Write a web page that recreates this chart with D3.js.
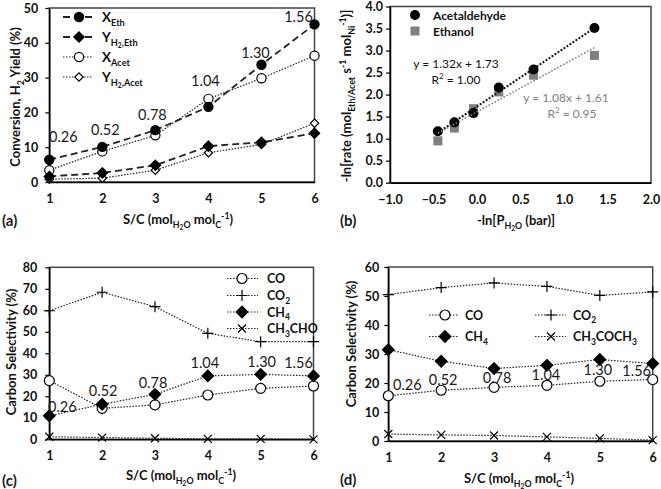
<!DOCTYPE html>
<html><head><meta charset="utf-8">
<script src="https://cdn.jsdelivr.net/npm/d3@7"></script>
<style>body{margin:0;background:#fff} svg{display:block}</style>
</head><body>
<script>
// ---------- DATA ----------
const sc = [1, 2, 3, 4, 5, 6];
const scTicks = [1, 2, 3, 4, 5, 6];
const pH2O = ["0.26", "0.52", "0.78", "1.04", "1.30", "1.56"];
// panel (a)
const xEth    = [6.4, 10.1, 14.9, 21.6, 33.7, 45.3];
const yH2Eth  = [1.6, 2.6, 4.8, 10.3, 11.4, 14.0];
const xAcet   = [3.4, 8.8, 13.4, 23.9, 29.8, 36.3];
const yH2Acet = [0.8, 1.1, 3.4, 8.4, 10.8, 16.9];
const aYTicks = [0, 10, 20, 30, 40, 50];
// panel (b)
const lnP      = [-0.45, -0.26, -0.04, 0.25, 0.65, 1.35];
const rateAcet = [1.17, 1.37, 1.58, 2.16, 2.57, 3.51];
const rateEth  = [0.95, 1.24, 1.68, 2.06, 2.44, 2.89];
const fitAcet  = {slope: 1.32, intercept: 1.73, r2: "1.00"};
const fitEth   = {slope: 1.08, intercept: 1.61, r2: "0.95"};
const bXTicks  = [-1.0, -0.5, 0.0, 0.5, 1.0, 1.5, 2.0];
const bYTicks  = [0, 0.5, 1, 1.5, 2, 2.5, 3, 3.5, 4];
// panel (c)
const cCO     = [27.3, 14.4, 16.0, 20.6, 23.7, 24.8];
const cCO2    = [59.8, 68.4, 61.7, 49.3, 45.4, 45.4];
const cCH4    = [10.9, 16.3, 20.9, 29.5, 30.2, 29.5];
const cCH3CHO = [1.2, 0.8, 0.5, 0.2, 0.2, 0.0];
const cYTicks = [0, 10, 20, 30, 40, 50, 60, 70, 80];
// panel (d)
const dCO       = [15.6, 17.5, 18.5, 19.2, 20.6, 21.2];
const dCO2      = [50.5, 52.9, 54.5, 53.3, 50.2, 51.4];
const dCH4      = [31.5, 27.5, 25.0, 26.1, 28.1, 26.7];
const dCH3COCH3 = [2.4, 2.1, 1.9, 1.4, 0.9, 0.3];
const dYTicks   = [0, 10, 20, 30, 40, 50, 60];

// ---------- LAYOUT ----------
const W = 661, H = 489;
const FONT = "Lato, 'Open Sans', sans-serif";
const svg = d3.select("body").append("svg").attr("width", W).attr("height", H)
  .style("font-family", FONT);

const dotted = "1.5,1.5";
const dashed = "7,4";

function rich(sel, str, size) {
  const parts = str.split(/(__\{[^}]*\}|_\{[^}]*\}|\^\{[^}]*\})/).filter(s => s.length);
  let off = 0;
  parts.forEach(p => {
    let target = 0, txt = p, fs = size;
    if (p.startsWith("__{")) { target = size * 0.45; txt = p.slice(3, -1); fs = size * 0.5; }
    else if (p.startsWith("_{")) { target = size * 0.3; txt = p.slice(2, -1); fs = size * 0.68; }
    else if (p.startsWith("^{")) { target = -size * 0.38; txt = p.slice(2, -1); fs = size * 0.68; }
    sel.append("tspan").attr("dy", target - off).attr("font-size", fs).text(txt);
    off = target;
  });
  return sel;
}

function symbolPath(type, s) {
  switch (type) {
    case "circle": return d3.symbol(d3.symbolCircle, Math.PI * s * s)();
    case "diamond": return `M0,${-s}L${s},0L0,${s}L${-s},0Z`;
    case "square": return `M${-s},${-s}H${s}V${s}H${-s}Z`;
    case "plus": return `M${-s},0H${s}M0,${-s}V${s}`;
    case "x": return `M${-s},${-s}L${s},${s}M${-s},${s}L${s},${-s}`;
  }
}
function marker(g, type, s, fill, stroke, sw) {
  return g.append("path").attr("d", symbolPath(type, s))
    .attr("fill", (type === "plus" || type === "x") ? "none" : fill)
    .attr("stroke", stroke).attr("stroke-width", sw);
}

function frame(x, y, yTicks, yFmt, yPad, xTicks, xFmt, xPad) {
  const [x0, x1] = x.range(), [y0, y1] = y.range();
  svg.append("rect").attr("x", x0).attr("y", y1).attr("width", x1 - x0).attr("height", y0 - y1)
    .attr("fill", "none").attr("stroke", "#444").attr("stroke-width", 1.5);
  const gy = svg.append("g").attr("transform", `translate(${x0},0)`)
    .call(d3.axisLeft(y).tickValues(yTicks).tickFormat(yFmt).tickSize(4).tickSizeOuter(0).tickPadding(yPad));
  const gx = svg.append("g").attr("transform", `translate(0,${y0})`)
    .call(d3.axisBottom(x).tickValues(xTicks).tickFormat(xFmt).tickSize(0).tickSizeOuter(0).tickPadding(xPad));
  [gx, gy].forEach(g => {
    g.attr("font-family", FONT).attr("font-size", 12.5);
    g.select(".domain").attr("stroke", "#000").attr("stroke-width", 1.5);
    g.selectAll(".tick line").attr("stroke", "#000").attr("stroke-width", 1.2);
    g.selectAll("text").attr("font-family", FONT).attr("font-weight", "bold")
      .attr("font-size", 12.5).attr("fill", "#111");
  });
}

function series(xs, ys, x, y, o) {
  const line = d3.line().x((d, i) => x(xs[i])).y(d => y(d));
  svg.append("path").datum(ys).attr("d", line).attr("fill", "none")
    .attr("stroke", o.lineColor || "#222").attr("stroke-width", o.lw || 1.2)
    .attr("stroke-dasharray", o.dash);
  const g = svg.append("g");
  ys.forEach((v, i) => {
    const m = marker(g, o.type, o.size, o.fill, o.stroke || "#000", o.msw || 1.2);
    m.attr("transform", `translate(${x(xs[i])},${y(v)})`);
  });
}

function legendRow(x1, x2, mx, tx, yy, o, label, fs) {
  svg.append("line").attr("x1", x1).attr("x2", x2).attr("y1", yy).attr("y2", yy)
    .attr("stroke", o.lineColor || "#222").attr("stroke-width", o.lw || 1.2)
    .attr("stroke-dasharray", o.dash);
  marker(svg, o.type, o.size, o.fill, o.stroke || "#000", o.msw || 1.2)
    .attr("transform", `translate(${mx},${yy})`);
  rich(svg.append("text").attr("x", tx).attr("y", yy + fs * 0.36).attr("font-weight", "bold")
    .attr("font-size", fs).attr("fill", "#111"), label, fs);
}

function title(x, y, str, size, rotate) {
  const t = svg.append("text").attr("text-anchor", "middle").attr("font-weight", "bold")
    .attr("font-size", size).attr("fill", "#111");
  if (rotate) t.attr("transform", `translate(${x},${y}) rotate(-90)`);
  else t.attr("x", x).attr("y", y);
  rich(t, str, size);
}
function plain(x, y, str, size, o = {}) {
  svg.append("text").attr("x", x).attr("y", y).attr("font-size", size)
    .attr("font-weight", o.weight || "normal").attr("fill", o.fill || "#1a1a1a")
    .attr("text-anchor", o.anchor || "middle").text(str);
}
function rich2(x, y, str, size, o = {}) {
  const t = svg.append("text").attr("x", x).attr("y", y).attr("font-size", size)
    .attr("font-weight", o.weight || "normal").attr("fill", o.fill || "#1a1a1a")
    .attr("text-anchor", o.anchor || "middle");
  rich(t, str, size);
}
const intFmt = d3.format("d"), f1 = d3.format(".1f");
const scTitle = "S/C (mol_{H}__{2}_{O} mol_{C}^{-1})";

// ---------- PANEL (a) ----------
{
  const x = d3.scaleLinear().domain([1, 6]).range([49.3, 314.5]);
  const y = d3.scaleLinear().domain([0, 50]).range([182, 8]);
  frame(x, y, aYTicks, intFmt, 7, scTicks, intFmt, 12);
  const sXE = {type: "circle", size: 4.6, fill: "#000", dash: dashed, lw: 1.8};
  const sYE = {type: "diamond", size: 5.2, fill: "#000", dash: dashed, lw: 1.8};
  const sXA = {type: "circle", size: 4.6, fill: "#fff", dash: dotted, lw: 1.2};
  const sYA = {type: "diamond", size: 4.2, fill: "#fff", dash: dotted, lw: 1.2};
  series(sc, xAcet, x, y, sXA);
  series(sc, yH2Acet, x, y, sYA);
  series(sc, yH2Eth, x, y, sYE);
  series(sc, xEth, x, y, sXE);
  const off = [[14, -23], [3, -17], [-3, -15], [-3, -26], [-6, -12], [-16, -7]];
  pH2O.forEach((t, i) => plain(x(sc[i]) + off[i][0], y(xEth[i]) + off[i][1] + 5, t, 14.5));
  const ly = [17, 37, 57, 77];
  legendRow(63, 93, 79, 102, ly[0], sXE, "X_{Eth}", 13.5);
  legendRow(63, 93, 79, 102, ly[1], sYE, "Y_{H}__{2}_{,Eth}", 13.5);
  legendRow(63, 93, 79, 102, ly[2], sXA, "X_{Acet}", 13.5);
  legendRow(63, 93, 79, 102, ly[3], sYA, "Y_{H}__{2}_{,Acet}", 13.5);
  title(20, 97, "Conversion, H_{2} Yield (%)", 13, true);
  title(178, 224, scTitle, 13, false);
  plain(2, 226, "(a)", 15, {anchor: "start", weight: "bold"});
}

// ---------- PANEL (b) ----------
{
  const x = d3.scaleLinear().domain([-1, 2]).range([390, 651]);
  const y = d3.scaleLinear().domain([0, 4]).range([182.7, 6.5]);
  frame(x, y, bYTicks, f1, 3, bXTicks, f1, 12);
  const ext = d3.extent(lnP);
  const fitLine = (f, color, w, dash) => svg.append("path")
    .datum(ext).attr("d", d3.line().x(d => x(d)).y(d => y(f.slope * d + f.intercept)))
    .attr("stroke", color).attr("stroke-width", w).attr("stroke-dasharray", dash).attr("fill", "none");
  const g = svg.append("g");
  rateEth.forEach((v, i) => marker(g, "square", 4.5, "#7f7f7f", "none", 0)
    .attr("transform", `translate(${x(lnP[i])},${y(v)})`));
  rateAcet.forEach((v, i) => marker(g, "circle", 5, "#000", "none", 0)
    .attr("transform", `translate(${x(lnP[i])},${y(v)})`));
  fitLine(fitAcet, "#111", 2, "2,1.6");
  fitLine(fitEth, "#808080", 1.6, "1.6,1.8");
  marker(svg, "circle", 5, "#000", "none", 0).attr("transform", "translate(415,15)");
  marker(svg, "square", 4.5, "#7f7f7f", "none", 0).attr("transform", "translate(415,31)");
  plain(433, 19.5, "Acetaldehyde", 12, {anchor: "start", weight: "bold", fill: "#111"});
  plain(433, 35.5, "Ethanol", 12, {anchor: "start", weight: "bold", fill: "#111"});
  plain(456, 68, `y = ${fitAcet.slope.toFixed(2)}x + ${fitAcet.intercept.toFixed(2)}`, 12, {fill: "#111"});
  rich2(456, 83.5, `R^{2} = ${fitAcet.r2}`, 12, {fill: "#111"});
  plain(566, 102, `y = ${fitEth.slope.toFixed(2)}x + ${fitEth.intercept.toFixed(2)}`, 12, {fill: "#808080"});
  rich2(572, 117.5, `R^{2} = ${fitEth.r2}`, 12, {fill: "#808080"});
  title(351, 96, "-ln[rate (mol_{Eth/Acet} s^{-1} mol_{Ni}^{-1})]", 13, true);
  title(516, 225, "-ln[P_{H}__{2}_{O} (bar)]", 13, false);
  plain(340, 226, "(b)", 15, {anchor: "start", weight: "bold"});
}

// ---------- PANEL (c) ----------
{
  const x = d3.scaleLinear().domain([1, 6]).range([49.3, 313.5]);
  const y = d3.scaleLinear().domain([0, 80]).range([439.3, 267.3]);
  frame(x, y, cYTicks, intFmt, 8, scTicks, intFmt, 12);
  const sCO = {type: "circle", size: 5, fill: "#fff", dash: dotted};
  const sCO2 = {type: "plus", size: 5.5, dash: dotted};
  const sCH4 = {type: "diamond", size: 5.8, fill: "#000", dash: dotted};
  const sAc = {type: "x", size: 4, dash: dotted};
  series(sc, cCH3CHO, x, y, sAc);
  series(sc, cCO2, x, y, sCO2);
  series(sc, cCO, x, y, sCO);
  series(sc, cCH4, x, y, sCH4);
  const off = [[13, -9], [1, -13], [-2, -11], [-3, -13], [1, -12], [-15, -13]];
  pH2O.forEach((t, i) => plain(x(sc[i]) + off[i][0], y(cCH4[i]) + off[i][1] + 5, t, 14.5));
  const ly = [278.5, 295.5, 312, 328.5];
  legendRow(227, 258, 242, 267, ly[0], sCO, "CO", 12.5);
  legendRow(227, 258, 242, 267, ly[1], sCO2, "CO_{2}", 12.5);
  legendRow(227, 258, 242, 267, ly[2], sCH4, "CH_{4}", 12.5);
  legendRow(227, 258, 242, 267, ly[3], sAc, "CH_{3}CHO", 12.5);
  title(16, 352, "Carbon Selectivity (%)", 13, true);
  title(181, 480, scTitle, 13, false);
  plain(2, 486, "(c)", 15, {anchor: "start", weight: "bold"});
}

// ---------- PANEL (d) ----------
{
  const x = d3.scaleLinear().domain([1, 6]).range([388.3, 652.7]);
  const y = d3.scaleLinear().domain([0, 60]).range([441, 267]);
  frame(x, y, dYTicks, intFmt, 5, scTicks, intFmt, 12);
  const sCO = {type: "circle", size: 5, fill: "#fff", dash: dotted};
  const sCO2 = {type: "plus", size: 5.5, dash: dotted};
  const sCH4 = {type: "diamond", size: 5.8, fill: "#000", dash: dotted};
  const sAc = {type: "x", size: 4, dash: dotted};
  series(sc, dCH3COCH3, x, y, sAc);
  series(sc, dCO2, x, y, sCO2);
  series(sc, dCH4, x, y, sCH4);
  series(sc, dCO, x, y, sCO);
  const off = [[19, -11], [2, -10], [3, -9], [-1, -10], [-2, -11], [-16, -9]];
  pH2O.forEach((t, i) => plain(x(sc[i]) + off[i][0], y(dCO[i]) + off[i][1] + 5, t, 14.5));
  legendRow(429, 459, 445, 465, 315, sCO, "CO", 12.5);
  legendRow(535, 566, 551, 573, 315, sCO2, "CO_{2}", 12.5);
  legendRow(429, 459, 445, 465, 336.5, sCH4, "CH_{4}", 12.5);
  legendRow(535, 566, 551, 573, 336.5, sAc, "CH_{3}COCH_{3}", 12.5);
  title(356, 344, "Carbon Selectivity (%)", 13, true);
  title(519, 483, scTitle, 13, false);
  plain(340, 485, "(d)", 15, {anchor: "start", weight: "bold"});
}
</script>
</body></html>
